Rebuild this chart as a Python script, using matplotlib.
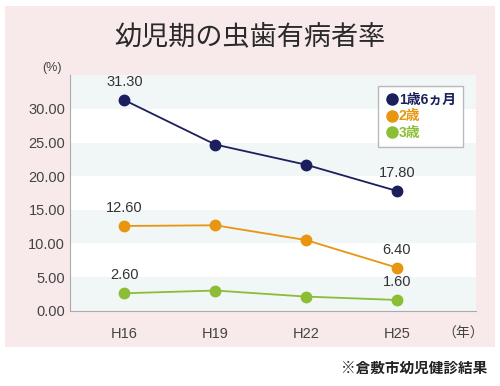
import matplotlib.pyplot as plt
from matplotlib.patches import Rectangle
from matplotlib.lines import Line2D

plt.rcParams['font.family'] = ['Liberation Sans', 'Noto Sans CJK JP', 'DejaVu Sans']

years = ["H16", "H19", "H22", "H25"]
age_1y6m = [31.3, 24.7, 21.7, 17.8]
age_2 = [12.6, 12.7, 10.5, 6.4]
age_3 = [2.6, 3.0, 2.1, 1.6]
series_names = ["1歳6ヵ月", "2歳", "3歳"]
colors = ["#1c1f5e", "#e8950f", "#8bbd35"]

fig = plt.figure(figsize=(5, 3.86), dpi=100)
fig.patches.append(Rectangle((0.01, 0.10), 0.98, 0.885, transform=fig.transFigure,
                             facecolor="#f8eaea", edgecolor="none", zorder=-5))

ax = fig.add_axes([0.14, 0.195, 0.812, 0.61])
ax.set_facecolor("white")
for lo in range(0, 35, 10):
    ax.axhspan(lo, lo + 5, color="#f1f6f7", lw=0, zorder=0)

x = list(range(len(years)))
for vals, c in zip([age_1y6m, age_2, age_3], colors):
    ax.plot(x, vals, color=c, lw=1.3, marker="o", ms=7.5, zorder=3)
    for i in (0, len(vals) - 1):
        ax.text(x[i], vals[i] + 1.6, f"{vals[i]:.2f}", ha="center", va="bottom",
                fontsize=10.5, color="#333333")

ax.set_xlim(-0.6, 3.87)
ax.set_ylim(0, 35)
ax.set_yticks(range(0, 35, 5))
ax.set_yticklabels([f"{v:.2f}" for v in range(0, 35, 5)])
ax.set_xticks(x)
ax.set_xticklabels(years)
ax.tick_params(length=0, labelsize=10.5, colors="#444444")
ax.tick_params(axis="x", pad=12)
for s in ["top", "right"]:
    ax.spines[s].set_visible(False)
for s in ["left", "bottom"]:
    ax.spines[s].set_color("#aaaaaa")

ax.text(-0.02, 1.005, "(%)", transform=ax.transAxes, ha="right", va="bottom",
        fontsize=9, color="#444444")
ax.text(3.73, -2.4, "（年）", ha="center", va="top", fontsize=10, color="#444444",
        clip_on=False)

handles = [Line2D([], [], ls="none", marker="o", ms=8, color=c) for c in colors]
leg = ax.legend(handles, series_names, loc="upper right", bbox_to_anchor=(0.985, 0.985),
                handletextpad=0.0, handlelength=1.0, borderpad=0.5, labelspacing=0.2,
                fancybox=False, frameon=True, prop={"size": 10, "weight": "bold"})
leg.get_frame().set_edgecolor("#aaaaaa")
leg.get_frame().set_linewidth(1.0)
for t, c in zip(leg.get_texts(), colors):
    t.set_color(c)

fig.text(0.5, 0.905, "幼児期の虫歯有病者率", ha="center", va="center",
         fontsize=19.5, color="#2a2a2a", family=["Noto Sans CJK JP"])
fig.text(0.975, 0.048, "※倉敷市幼児健診結果", ha="right", va="center",
         fontsize=10.5, color="#222222", weight="bold", family=["Noto Sans CJK JP"])

fig.savefig("out.png", dpi=100)
